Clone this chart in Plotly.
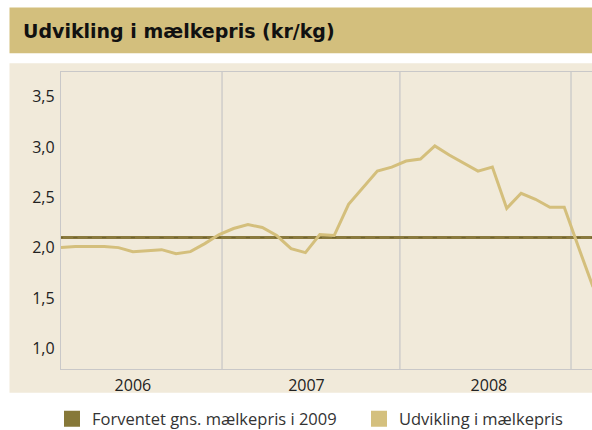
import plotly.graph_objects as go

# ---- data ----
months = list(range(38))  # monthly index, first point = start of 2006 series
price = [2.00, 2.01, 2.01, 2.01, 2.00, 1.96, 1.97, 1.98, 1.94, 1.96,
         2.04, 2.13, 2.19, 2.23, 2.20, 2.12, 1.99, 1.95, 2.13, 2.12,
         2.43, 2.59, 2.76, 2.80, 2.86, 2.88, 3.01, 2.92, 2.84, 2.76,
         2.80, 2.39, 2.54, 2.48, 2.40, 2.40, 2.00, 1.61]
expected_2009 = [2.10] * len(months)
year_labels = ["2006", "2007", "2008"]
year_label_pos = [5.0, 17.07, 29.76]
year_bounds = [11.2, 23.57, 35.47]
y_ticks = [1.0, 1.5, 2.0, 2.5, 3.0, 3.5]

name_expected = "Forventet gns. mælkepris i 2009"
name_price = "Udvikling i mælkepris"

DARK = "#8a7a3e"
LIGHT = "#d4bf7c"
BAR = "#d3bf7d"
PANEL = "#f1eada"
GRID = "#c9c8c8"

W, H = 592, 430
L, R, T, B = 61, 0, 72, 61
pw, ph = W - L - R, H - T - B


def px_x(p):
    return (p - L) / pw


def px_y(p):
    return (H - B - p) / ph


fig = go.Figure()

fig.add_trace(go.Scatter(
    x=months, y=expected_2009, mode="lines+markers", name=name_expected,
    line=dict(color=DARK, width=3),
    marker=dict(symbol="line-ew", size=3, line=dict(width=1.2, color="#716431")),
    showlegend=False, hoverinfo="skip"))
fig.add_trace(go.Scatter(
    x=months, y=price, mode="lines", name=name_price,
    line=dict(color=LIGHT, width=3), showlegend=False))

# legend proxies (square swatches)
fig.add_trace(go.Scatter(x=[None], y=[None], mode="markers", name=name_expected,
                         legend="legend",
                         marker=dict(symbol="square", size=16, color="#867838")))
fig.add_trace(go.Scatter(x=[None], y=[None], mode="markers", name=name_price,
                         legend="legend2",
                         marker=dict(symbol="square", size=16, color="#d4c07e")))

shapes = [
    # title bar
    dict(type="rect", xref="paper", yref="paper", x0=px_x(9.5), x1=1.0,
         y0=px_y(53.3), y1=px_y(7.5), fillcolor=BAR, line=dict(width=0), layer="below"),
    # panel
    dict(type="rect", xref="paper", yref="paper", x0=px_x(9.5), x1=1.0,
         y0=px_y(392.7), y1=px_y(63.3), fillcolor=PANEL, line=dict(width=0), layer="below"),
]
for b in year_bounds:
    shapes.append(dict(type="line", xref="x", yref="paper", x0=b, x1=b, y0=0, y1=1,
                       line=dict(color=GRID, width=1.3), layer="below"))

legend_common = dict(orientation="h", xanchor="left", y=px_y(419), yanchor="middle",
                     bgcolor="rgba(0,0,0,0)", font=dict(size=16.5, color="#333"),
                     itemsizing="trace")

fig.update_layout(
    width=W, height=H,
    margin=dict(l=L, r=R, t=T, b=B, autoexpand=False),
    paper_bgcolor="white", plot_bgcolor=PANEL,
    separators=",.",
    font=dict(family="Open Sans", size=14, color="#222"),
    shapes=shapes,
    showlegend=True,
    legend=dict(x=px_x(52), **legend_common),
    legend2=dict(x=px_x(359), **legend_common),
    annotations=[dict(text="<b>Udvikling i mælkepris (kr/kg)</b>", xref="paper", yref="paper",
                      x=px_x(21), y=px_y(30.5), xanchor="left", yanchor="middle",
                      showarrow=False, font=dict(family="DejaVu Sans", size=19, color="#111"))],
)

fig.update_xaxes(range=[0, 36.93], tickvals=year_label_pos, ticktext=year_labels,
                 showgrid=False, zeroline=False, showline=True, mirror=True,
                 linecolor=GRID, linewidth=1.3, ticks="", ticklabelstandoff=2,
                 tickfont=dict(size=16, color="#222"))
fig.update_yaxes(range=[0.794, 3.745], tickvals=y_ticks, tickformat=".1f",
                 showgrid=False, zeroline=False, showline=True, linecolor=GRID,
                 linewidth=1.3, ticks="", ticklabelstandoff=2,
                 tickfont=dict(size=16, color="#222"))

fig.write_html("out.html",
               config={"displayModeBar": False},
               post_script="document.body.style.margin='0';"
                           "document.body.style.overflow='hidden';")
